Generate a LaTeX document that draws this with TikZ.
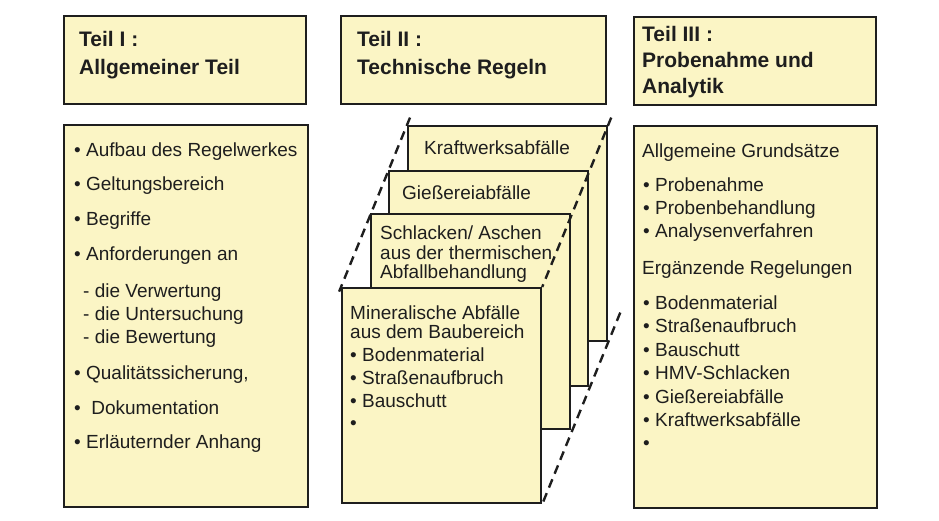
\documentclass[tikz,border=0pt]{standalone}
\usepackage{fontspec}
\setmainfont{Liberation Sans}
\usetikzlibrary{positioning}
\definecolor{paper}{RGB}{251,245,197}
\definecolor{ink}{RGB}{30,30,30}

\begin{document}
\begin{tikzpicture}
[x=1pt,y=-1pt,%
  boxDecorate/.style={shape=rectangle,draw=ink,line width=2.2pt,fill=paper,anchor=north west,inner sep=0pt},%
  cardDecorate/.style={boxDecorate,minimum width=199pt,minimum height=215pt},%
  lineDecorate/.style={-,draw=ink,line width=2.4pt,dash pattern=on 9pt off 6pt},%
  textDecorate/.style={anchor=base west,inner sep=0pt,text=ink,font=\fontsize{19}{23}\selectfont},%
  titleDecorate/.style={textDecorate,font=\fontsize{21}{26}\selectfont\bfseries}]
\useasboundingbox (0,0) rectangle (939,521);
%% head boxes
\node[boxDecorate,minimum width=242pt,minimum height=88pt] (head1) at (63,15) {};
\node[boxDecorate,minimum width=265pt,minimum height=88pt] (head2) at (340,15) {};
\node[boxDecorate,minimum width=242pt,minimum height=88pt] (head3) at (633,16) {};
%% body boxes
\node[boxDecorate,minimum width=244pt,minimum height=382pt] (body1) at (63,124) {};
\node[boxDecorate,minimum width=243pt,minimum height=382pt] (body3) at (633,125) {};
%% stacked cards, back to front
\node[cardDecorate] (K) at (407,125) {};
\node[cardDecorate] (G) at (388,170) {};
\node[cardDecorate] (S) at (370,213) {};
\node[cardDecorate] (M) at (341,287) {};
%% titles
\foreach \nodename/\x/\y/\txt in {
  h1a/79/47/{Teil I :}, h1b/79/75/{Allgemeiner Teil},
  h2a/357/47/{Teil II :}, h2b/357/75/{Technische Regeln},
  h3a/642/42/{Teil III :}, h3b/642/68/{Probenahme und}, h3c/642/94/{Analytik}}
{
  \node[titleDecorate] (\nodename) at (\x,\y) {\txt};
}
%% left list
\foreach \nodename/\x/\y/\txt in {
  la1/74/157/{• Aufbau des Regelwerkes}, la2/74/191/{• Geltungsbereich},
  la3/74/226/{• Begriffe}, la4/74/261/{• Anforderungen an},
  la5/83/297/{- die Verwertung}, la6/83/320/{- die Untersuchung},
  la7/83/343/{- die Bewertung}, la8/74/379/{• Qualitätssicherung,},
  la9/74/414/{•~ Dokumentation}, la10/74/448/{• Erläuternder Anhang}}
{
  \node[textDecorate] (\nodename) at (\x,\y) {\txt};
}
%% card texts
\foreach \nodename/\x/\y/\txt in {
  ka/424/155/{Kraftwerksabfälle}, ga/402/200/{Gießereiabfälle},
  sa/380/240/{Schlacken/ Aschen}, sb/380/259/{aus der thermischen},
  sc/380/278/{Abfallbehandlung},
  ma/350/319/{Mineralische Abfälle}, mb/350/338/{aus dem Baubereich},
  mc/350/361/{• Bodenmaterial}, md/350/384/{• Straßenaufbruch},
  me/350/407/{• Bauschutt}, mf/350/429/{•}}
{
  \node[textDecorate] (\nodename) at (\x,\y) {\txt};
}
%% right list
\foreach \nodename/\x/\y/\txt in {
  ra1/642/158/{Allgemeine Grundsätze}, ra2/643/192/{• Probenahme},
  ra3/643/215/{• Probenbehandlung}, ra4/643/238/{• Analysenverfahren},
  ra5/642/275/{Ergänzende Regelungen}, ra6/643/309/{• Bodenmaterial},
  ra7/643/332/{• Straßenaufbruch}, ra8/643/356/{• Bauschutt},
  ra9/643/379/{• HMV-Schlacken}, ra10/643/403/{• Gießereiabfälle},
  ra11/643/426/{• Kraftwerksabfälle}, ra12/643/449/{•}}
{
  \node[textDecorate] (\nodename) at (\x,\y) {\txt};
}
%% dashed edges of the stack
\draw[lineDecorate,shorten <=-8pt,shorten >=-5pt] (K.north west) -- (M.north west);
\draw[lineDecorate,shorten <=-8pt] (K.north east) -- (M.north east);
\draw[lineDecorate,shorten <=-32pt] (K.south east) -- (M.south east);
\end{tikzpicture}
\end{document}
